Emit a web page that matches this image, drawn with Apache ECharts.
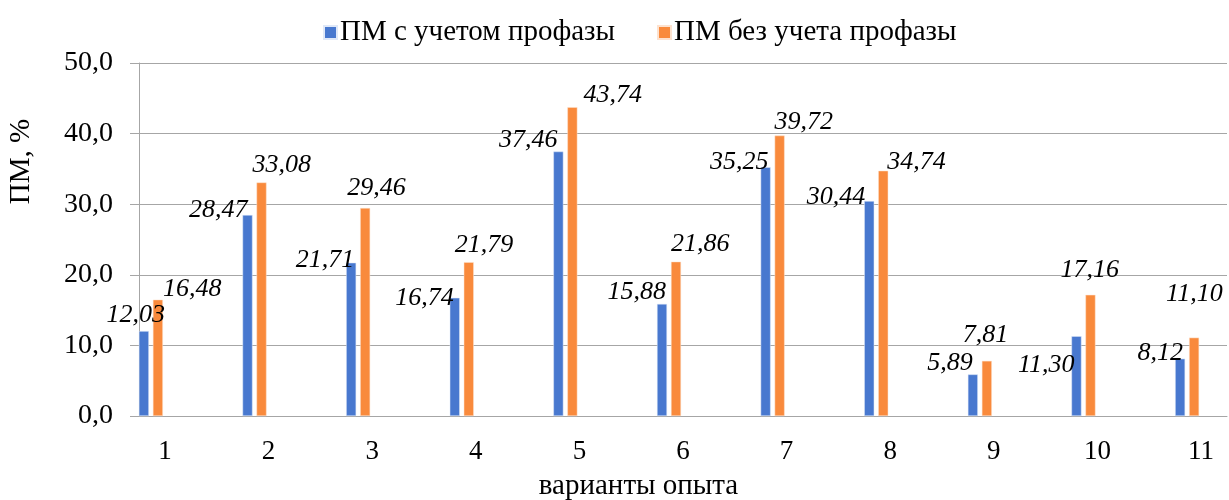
<!DOCTYPE html>
<html lang="ru">
<head>
    <meta charset="UTF-8">
    <title>ПМ по вариантам опыта</title>
    <style>
        html, body { margin: 0; padding: 0; background: #fff; }
        .chart { width: 1229px; height: 500px; }
    </style>
    <script src="https://cdn.jsdelivr.net/npm/echarts@6/dist/echarts.min.js"></script>
</head>
<body>
    <div class="chart"></div>
    <script>
        // варианты опыта
        var variants = ['1', '2', '3', '4', '5', '6', '7', '8', '9', '10', '11'];

        // ПМ с учетом профазы, %
        var withProphase = [12.03, 28.47, 21.71, 16.74, 37.46, 15.88, 35.25, 30.44, 5.89, 11.30, 8.12];

        // ПМ без учета профазы, %
        var withoutProphase = [16.48, 33.08, 29.46, 21.79, 43.74, 21.86, 39.72, 34.74, 7.81, 17.16, 11.10];

        var seriesNames = ['ПМ с учетом профазы', 'ПМ без учета профазы'];

        // сдвиги подписей (подписи в исходнике двигали вручную), [dx, dy] от верха столбика
        var blueLabelShift = [[26, -16], [5, -5], [8, -3], [4, 0], [4, -11], [9, -12], [8, -5], [1, -4], [5, -11], [3, 29], [8, -6]];
        var orangeLabelShift = [[10, -10], [-4, -17], [-13, -20], [-9, -17], [16, -12], [0, -17], [0, -13], [9, -9], [-19, -26], [-25, -25], [-23, -43]];

        // в исходной диаграмме между вариантами есть пустая категория
        function spread(arr, filler) {
            var out = [];
            arr.forEach(function (v, i) {
                if (i > 0) out.push(filler);
                out.push(v);
            });
            return out;
        }

        function withLabels(values, shifts) {
            return spread(values.map(function (v, i) {
                return { value: v, label: { position: shifts[i] } };
            }), null);
        }

        var font = "'Liberation Serif', 'Times New Roman', serif";
        var gridColor = '#a6a6a6';

        function comma(v, digits) {
            return v.toFixed(digits).replace('.', ',');
        }

        var labelStyle = {
            show: true,
            verticalAlign: 'middle',
            fontFamily: font, fontSize: 26, fontStyle: 'italic', color: '#000',
            formatter: function (p) { return comma(p.value, 2); }
        };

        var option = {
            animation: false,
            grid: { left: 139, right: 2, top: 63, bottom: 84, outerBoundsMode: 'none' },
            legend: {
                data: seriesNames,
                left: 318,
                top: 13,
                itemWidth: 13,
                itemHeight: 13,
                itemGap: 42,
                icon: 'rect',
                textStyle: { fontFamily: font, fontSize: 29, color: '#000', padding: [0, 0, 0, -2] }
            },
            xAxis: {
                type: 'category',
                data: spread(variants, ''),
                name: 'варианты опыта',
                nameLocation: 'middle',
                nameGap: 56,
                nameTextStyle: { fontFamily: font, fontSize: 29, color: '#000', padding: [0, 89, 0, 0] },
                axisLine: { lineStyle: { color: gridColor } },
                axisTick: { interval: 0, length: 7, lineStyle: { color: gridColor } },
                axisLabel: { interval: 0, fontFamily: font, fontSize: 27, color: '#000', margin: 22 }
            },
            yAxis: {
                type: 'value',
                min: 0,
                max: 50,
                interval: 10,
                name: 'ПМ, %',
                nameLocation: 'middle',
                nameRotate: 90,
                nameGap: 103,
                nameTextStyle: { fontFamily: font, fontSize: 29, color: '#000', padding: [0, 0, 0, 156] },
                axisLine: { show: true, lineStyle: { color: gridColor } },
                axisTick: { show: true, length: 9, lineStyle: { color: gridColor } },
                splitLine: { lineStyle: { color: gridColor } },
                axisLabel: {
                    fontFamily: font, fontSize: 28, color: '#000', margin: 26,
                    formatter: function (v) { return comma(v, 1); }
                }
            },
            series: [
                {
                    name: seriesNames[0],
                    type: 'bar',
                    data: withLabels(withProphase, blueLabelShift),
                    barWidth: 10,
                    barGap: '40%',
                    itemStyle: { color: '#4878cf', borderColor: '#dfe8f8', borderWidth: 0.5 },
                    label: Object.assign({ align: 'right' }, labelStyle)
                },
                {
                    name: seriesNames[1],
                    type: 'bar',
                    data: withLabels(withoutProphase, orangeLabelShift),
                    barWidth: 10,
                    barGap: '40%',
                    itemStyle: { color: '#f98a3c', borderColor: '#fde2cf', borderWidth: 0.5 },
                    label: Object.assign({ align: 'left' }, labelStyle)
                },
                // пустые ряды занимают место справа, как в исходной диаграмме
                { name: 'spacer1', type: 'bar', data: [], barWidth: 10, barGap: '40%', silent: true },
                { name: 'spacer2', type: 'bar', data: [], barWidth: 10, barGap: '40%', silent: true }
            ]
        };

        var chart = echarts.init(document.querySelector('.chart'));
        chart.setOption(option);
    </script>
</body>
</html>
